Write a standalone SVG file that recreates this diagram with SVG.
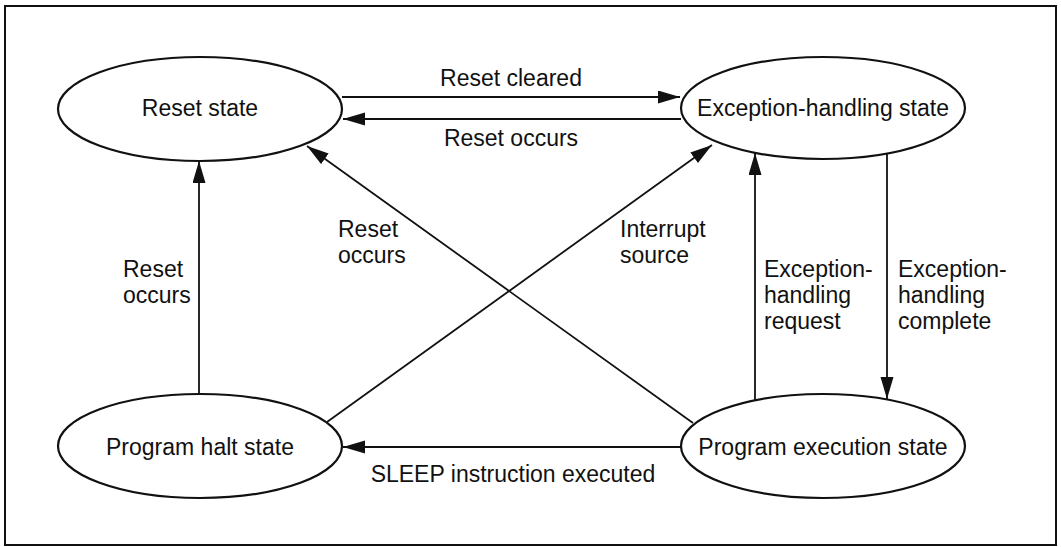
<svg xmlns="http://www.w3.org/2000/svg" width="1061" height="547" viewBox="0 0 1061 547">
<style>
.node{fill:#fff;stroke:#111;stroke-width:2.2}
.lbl{font-family:"Liberation Sans",Arial,sans-serif;font-size:23px;fill:#111}
.c{text-anchor:middle}
.edge{stroke:#111;stroke-width:1.8;fill:none;marker-end:url(#ah)}
</style>
<defs>
<marker id="ah" markerUnits="userSpaceOnUse" markerWidth="24" markerHeight="14" refX="22" refY="6.5" orient="auto">
<path d="M0,0 L22,6.5 L0,13 z" fill="#111"/>
</marker>
</defs>
<rect x="0" y="0" width="1061" height="547" fill="#fff"/>
<rect x="5" y="6" width="1051" height="539" fill="none" stroke="#111" stroke-width="2"/>
<g id="connectors">
<line class="edge" x1="342" y1="97" x2="680" y2="97"/>
<line class="edge" x1="681" y1="119" x2="343" y2="119"/>
<line class="edge" x1="199" y1="394" x2="199" y2="161"/>
<line class="edge" x1="693" y1="423" x2="307" y2="146"/>
<line class="edge" x1="327" y1="422" x2="712" y2="145"/>
<line class="edge" x1="755" y1="401" x2="755" y2="153"/>
<line class="edge" x1="887" y1="154" x2="887" y2="399"/>
<line class="edge" x1="681" y1="447" x2="343" y2="447"/>
<text class="lbl c" x="511" y="86">Reset cleared</text>
<text class="lbl c" x="511" y="146">Reset occurs</text>
<text class="lbl" x="123" y="277">Reset</text>
<text class="lbl" x="123" y="303">occurs</text>
<text class="lbl" x="338" y="237">Reset</text>
<text class="lbl" x="338" y="263">occurs</text>
<text class="lbl" x="620" y="237">Interrupt</text>
<text class="lbl" x="620" y="263">source</text>
<text class="lbl" x="764" y="277">Exception-</text>
<text class="lbl" x="764" y="303">handling</text>
<text class="lbl" x="764" y="329">request</text>
<text class="lbl" x="898" y="277">Exception-</text>
<text class="lbl" x="898" y="303">handling</text>
<text class="lbl" x="898" y="329">complete</text>
<text class="lbl c" x="513" y="482">SLEEP instruction executed</text>
</g>
<g id="reset-state">
<ellipse class="node" cx="200" cy="109" rx="142" ry="52"/>
<text class="lbl c" x="200" y="116">Reset state</text>
</g>
<g id="exception-handling-state">
<ellipse class="node" cx="823" cy="108" rx="142" ry="51"/>
<text class="lbl c" x="823" y="116">Exception-handling state</text>
</g>
<g id="program-halt-state">
<ellipse class="node" cx="200" cy="446" rx="142" ry="52"/>
<text class="lbl c" x="200" y="455">Program halt state</text>
</g>
<g id="program-execution-state">
<ellipse class="node" cx="823" cy="446" rx="142" ry="52"/>
<text class="lbl c" x="823" y="455">Program execution state</text>
</g>
</svg>
